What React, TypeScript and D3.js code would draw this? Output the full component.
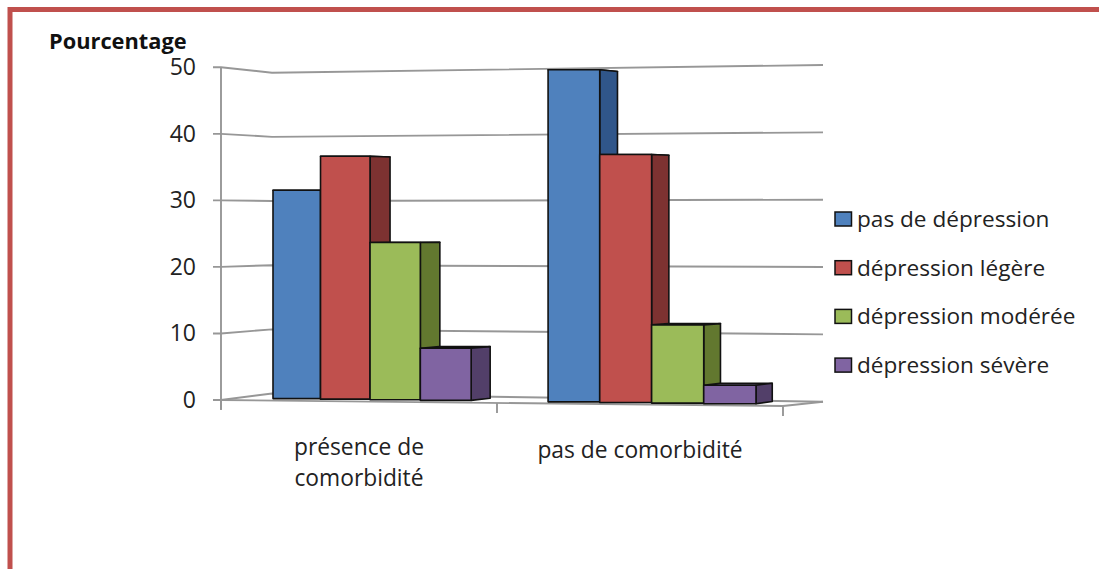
import React from 'react';
import * as d3 from 'd3';

// Share of patients (%) by depression level, split by comorbidity status
const categoryLines: string[][] = [['présence de', 'comorbidité'], ['pas de comorbidité']];
const seriesNames = ['pas de dépression', 'dépression légère', 'dépression modérée', 'dépression sévère'];
const presenceValues = [31.5, 36.6, 23.6, 7.8];
const absenceValues = [49.2, 36.6, 11.5, 2.7];
const yTicks = [0, 10, 20, 30, 40, 50];

const frontColors = ['#4f81bd', '#c0504d', '#9bbb59', '#8064a2'];
const sideColors = ['#30568a', '#7d3231', '#62782f', '#523f69'];
const topColors = ['#6590c6', '#cc6865', '#abc770', '#9079b0'];

const FONT = "'Open Sans', 'Noto Sans', sans-serif";
const W = 1099;
const H = 569;

// 3D box geometry: front-left wall edge, back wall corners, floor corners
const xFrontL = 221;
const xBackL = 272;
const xBackR = 823;
const xFrontR = 783;

const yFront = d3.scaleLinear().domain([0, 50]).range([400, 67.3]);
const yBackL = d3.scaleLinear().domain([0, 50]).range([393.5, 72.7]);
const yBackR = d3.scaleLinear().domain([0, 50]).range([401.7, 65]);
const floorFrontY = d3.scaleLinear().domain([xFrontL, xFrontR]).range([400, 406]);

// Category bands along the front edge of the floor
const xCat = d3.scaleLinear().domain([0, 1, 2]).range([xFrontL, 497, xFrontR]);

// Bar slots (with a slight perspective widening to the right)
const slotX = d3.scalePow().exponent(1.03).domain([0, 9.5]).range([273, 756]);
const depthX = d3.scaleLinear().domain([0, 9.5]).range([21, 16.25]);
const baseY = d3.scaleLinear().domain([273, 756]).range([398.3, 404]);
const unitPx = d3.scaleLinear().domain([273, 756]).range([6.6, 6.84]);
const HORIZON = 220;
const backShift = (y: number) => (HORIZON - y) * 0.012;

const groupGap = 5.5;

export default function App() {
  const groups = [presenceValues, absenceValues];

  const gridPath = (v: number) =>
    `M${xFrontL - 8},${yFront(v)}L${xFrontL},${yFront(v)}L${xBackL},${yBackL(v)}L${xBackR},${yBackR(v)}`;

  const bars: React.ReactNode[] = [];
  groups.forEach((vals, g) => {
    vals.forEach((v, s) => {
      const t0 = g * groupGap + s;
      const t1 = t0 + 1;
      const x0 = slotX(t0);
      const x1 = slotX(t1);
      const cx = (x0 + x1) / 2;
      const yb = baseY(cx);
      const yt = yb - v * unitPx(cx);
      const dx = depthX(t1);
      const dyt = backShift(yt);
      const dyb = backShift(yb);
      const top = `M${x0},${yt}L${x1},${yt}L${x1 + dx},${yt + dyt}L${x0 + dx},${yt + dyt}Z`;
      const side = `M${x1},${yt}L${x1 + dx},${yt + dyt}L${x1 + dx},${yb + dyb}L${x1},${yb}Z`;
      bars.push(
        <g key={`${g}-${s}`} stroke="#111" strokeWidth={1.6} strokeLinejoin="round">
          <path d={top} fill={topColors[s]} />
          <path d={side} fill={sideColors[s]} />
          <rect x={x0} y={yt} width={x1 - x0} height={yb - yt} fill={frontColors[s]} />
        </g>
      );
    });
  });

  return (
    <svg
      width={W}
      height={H}
      viewBox={`0 0 ${W} ${H}`}
      style={{ position: 'absolute', left: 0, top: 0, background: '#fff' }}
    >
      {/* frame */}
      <path d={`M10,${H + 5}V9.5H${W + 5}`} fill="none" stroke="#c0504d" strokeWidth={5} />

      {/* axis title */}
      <text x={49} y={48.5} fontFamily={FONT} fontWeight={700} fontSize={21.8} fill="#111">
        Pourcentage
      </text>

      {/* walls and gridlines */}
      <g fill="none" stroke="#979797" strokeWidth={1.9}>
        {yTicks.map((v) => (
          <path key={v} d={gridPath(v)} />
        ))}
        <line x1={xFrontL} y1={yFront(50)} x2={xFrontL} y2={yFront(0) + 9} />
        <path
          d={`M${xFrontL},${floorFrontY(xFrontL)}L${xFrontR},${floorFrontY(xFrontR)}L${xBackR},${yBackR(0)}`}
        />
        {[0, 1, 2].map((i) => {
          const x = xCat(i);
          const y = floorFrontY(x);
          return <line key={i} x1={x} y1={y} x2={x} y2={y + 10} />;
        })}
      </g>

      {/* y tick labels */}
      <g fontFamily={FONT} fontSize={23} fill="#222" textAnchor="end">
        {yTicks.map((v) => (
          <text key={v} x={196} y={yFront(v) + 8}>
            {v}
          </text>
        ))}
      </g>

      {/* bars */}
      {bars}

      {/* category labels */}
      <g fontFamily={FONT} fontSize={22.8} fill="#222" textAnchor="middle">
        {categoryLines.map((lines, i) => {
          const cx = (xCat(i) + xCat(i + 1)) / 2;
          const startY = lines.length > 1 ? 455 : 458;
          return (
            <text key={i} x={cx} y={startY}>
              {lines.map((ln, j) => (
                <tspan key={j} x={cx} dy={j === 0 ? 0 : 31}>
                  {ln}
                </tspan>
              ))}
            </text>
          );
        })}
      </g>

      {/* legend */}
      <g fontFamily={FONT} fontSize={22.6} fill="#222">
        {seriesNames.map((name, i) => {
          const cy = 219 + i * 48.7;
          return (
            <g key={name}>
              <rect
                x={835}
                y={cy - 7}
                width={16.5}
                height={14}
                fill={frontColors[i]}
                stroke="#111"
                strokeWidth={1.5}
              />
              <text x={857} y={cy + 8}>
                {name}
              </text>
            </g>
          );
        })}
      </g>
    </svg>
  );
}
